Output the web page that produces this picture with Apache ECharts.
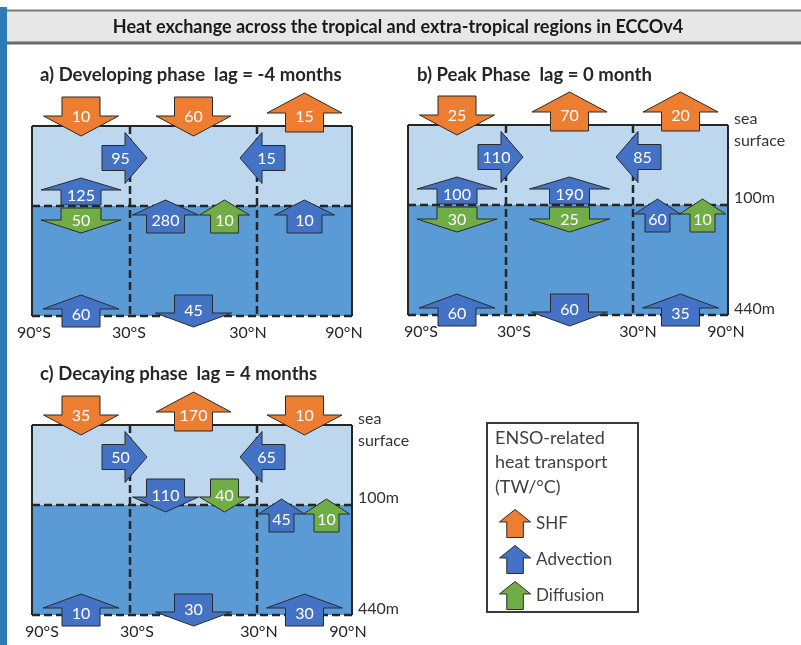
<!DOCTYPE html>
<html><head><meta charset="utf-8">
<script src="https://cdn.jsdelivr.net/npm/echarts@6/dist/echarts.min.js"></script>
<style>html,body{margin:0;padding:0;background:#fff}#c{width:801px;height:645px}</style>
</head><body><div id="c"></div>
<script>
// ---------------- DATA ----------------
const mainTitle = 'Heat exchange across the tropical and extra-tropical regions in ECCOv4';
const titles = ['a) Developing phase  lag = -4 months', 'b) Peak Phase  lag = 0 month', 'c) Decaying phase  lag = 4 months'];
const regions = ['90°S–30°S', '30°S–30°N', '30°N–90°N'];
const latTicks = ['90°S', '30°S', '30°N', '90°N'];
const depthTicks = ['sea', 'surface', '100m', '440m'];
const legendTitle = ['ENSO-related', 'heat transport', '(TW/°C)'];
const kinds = ['SHF', 'Advection', 'Diffusion'];

// surface heat flux per region (TW/°C), + = upward (out of ocean), - = into ocean
const shfA = [-10, -60, 15];
const shfB = [-25, 70, 20];
const shfC = [-35, 170, -10];
// upper-layer meridional advection across 30°S and 30°N, + = northward
const latAdvA = [95, -15];
const latAdvB = [110, -85];
const latAdvC = [50, -65];
// vertical advection across 100 m per region, + = upward, null = none
const adv100A = [125, 280, 10];
const adv100B = [100, 190, 60];
const adv100C = [null, -110, 45];
// vertical diffusion across 100 m per region
const dif100A = [-50, 10, null];
const dif100B = [-30, -25, 10];
const dif100C = [null, -40, 10];
// vertical advection across 440 m per region
const adv440A = [60, -45, null];
const adv440B = [60, -60, 35];
const adv440C = [10, -30, 30];

// ---------------- LAYOUT / STYLE ----------------
const FONT = 'Lato, "Open Sans", sans-serif';
const COLORS = {SHF: '#ed7d31', Advection: '#4472c4', Diffusion: '#70ad47'};
const UPPER = '#bdd7ee', LOWER = '#5b9bd5', INK = '#262626';
const XB = [0, 98, 225, 320];   // region boundaries in grid units
const YD = [0, 80, 190];        // depth levels (0, 100, 440 m) in grid units

const panelLayout = [
  {left: 32, top: 126, titleX: 40, titleY: 75, depthLabels: false, tickOff: [2, -1, -9, -8]},
  {left: 408, top: 125, titleX: 417, titleY: 75, depthLabels: true, tickOff: [13, 8, 5, -2]},
  {left: 32, top: 425, titleX: 40, titleY: 374, depthLabels: true, tickOff: [10, 7, 2, -4]}
];
const panelData = [
  {shf: shfA, lat: latAdvA, adv100: adv100A, dif100: dif100A, adv440: adv440A},
  {shf: shfB, lat: latAdvB, adv100: adv100B, dif100: dif100B, adv440: adv440B},
  {shf: shfC, lat: latAdvC, adv100: adv100C, dif100: dif100C, adv440: adv440C}
];

function buildArrows(d) {
  const out = {SHF: [], Advection: [], Diffusion: []};
  const cx = i => (XB[i] + XB[i + 1]) / 2;
  d.shf.forEach((v, i) => {
    if (v == null) return;
    const x = cx(i);
    if (v > 0) out.SHF.push({t: [x, 6], p: [x, -33], v, sw: 38, hw: 75, hl: 20});
    else out.SHF.push({t: [x, -29], p: [x, 10], v, sw: 38, hw: 75, hl: 20});
  });
  d.lat.forEach((v, j) => {
    if (v == null) return;
    const b = XB[j + 1], y = 32;
    if (v > 0) out.Advection.push({t: [b - 28, y], p: [b + 17, y], v, sw: 25, hw: 51, hl: 22});
    else out.Advection.push({t: [b + 28, y], p: [b - 17, y], v, sw: 25, hw: 51, hl: 22});
  });
  const L = YD[1];
  for (let i = 0; i < 3; i++) {
    const a = d.adv100[i], f = d.dif100[i], x = cx(i);
    if (a != null && f != null && Math.sign(a) !== Math.sign(f)) {
      [[a, 'Advection'], [f, 'Diffusion']].forEach(([v, k]) => {
        if (v > 0) out[k].push({t: [x, L - 1], p: [x, L - 28], v, sw: 40, hw: 80, hl: 12});
        else out[k].push({t: [x, L + 2], p: [x, L + 27], v, sw: 40, hw: 80, hl: 13});
      });
    } else {
      const pair = (a != null && f != null);
      const narrow = i === 2;
      [[a, 'Advection', 0], [f, 'Diffusion', 1]].forEach(([v, k, idx]) => {
        if (v == null) return;
        let xx = x, sw, hw;
        if (pair) {
          if (narrow) { xx = x + (idx ? 22 : -23); sw = 25; hw = 46; }
          else { xx = x + (idx ? 31 : -28); sw = idx ? 28 : 38; hw = idx ? 50 : 66; }
        } else { sw = 35; hw = 60; }
        if (v > 0) out[k].push({t: [xx, L + 27], p: [xx, L - 6], v, sw, hw, hl: 15});
        else out[k].push({t: [xx, L - 26], p: [xx, L + 7], v, sw, hw, hl: 15});
      });
    }
  }
  const B = YD[2];
  d.adv440.forEach((v, i) => {
    if (v == null) return;
    const x = cx(i);
    if (v > 0) out.Advection.push({t: [x, B + 11], p: [x, B - 21], v, sw: 38, hw: 76, hl: 14});
    else out.Advection.push({t: [x, B - 21], p: [x, B + 11], v, sw: 38, hw: 76, hl: 14});
  });
  return out;
}

function arrowRender(specs) {
  return function (params, api) {
    const s = specs[params.dataIndex];
    const T = api.coord([api.value(0), api.value(1)]);
    const P = api.coord([api.value(2), api.value(3)]);
    const dx = P[0] - T[0], dy = P[1] - T[1], len = Math.hypot(dx, dy);
    const ux = dx / len, uy = dy / len, nx = -uy, ny = ux;
    const Bx = P[0] - ux * s.hl, By = P[1] - uy * s.hl;
    const pts = [
      [T[0] + nx * s.sw / 2, T[1] + ny * s.sw / 2],
      [Bx + nx * s.sw / 2, By + ny * s.sw / 2],
      [Bx + nx * s.hw / 2, By + ny * s.hw / 2],
      [P[0], P[1]],
      [Bx - nx * s.hw / 2, By - ny * s.hw / 2],
      [Bx - nx * s.sw / 2, By - ny * s.sw / 2],
      [T[0] - nx * s.sw / 2, T[1] - ny * s.sw / 2]
    ];
    let mx = (T[0] + P[0]) / 2, my = (T[1] + P[1]) / 2 + 1;
    if (Math.abs(ux) > 0.5) mx -= ux * 4;
    else my += (uy < 0 ? 3 : -1);
    return {type: 'group', children: [
      {type: 'polygon', shape: {points: pts}, style: {fill: api.visual('color'), stroke: '#2b2b2b', lineWidth: 1}},
      {type: 'text', style: {text: String(Math.abs(api.value(4))), x: mx, y: my, fill: '#fff',
        fontSize: 16, fontFamily: FONT, align: 'center', verticalAlign: 'middle'}}
    ]};
  };
}

function frameRender(lay) {
  return function (params, api) {
    const c = (x, y) => api.coord([x, y]);
    const ch = [];
    const tl = c(XB[0], YD[0]), m = c(XB[3], YD[1]), ml = c(XB[0], YD[1]), br = c(XB[3], YD[2]);
    ch.push({type: 'rect', shape: {x: tl[0], y: tl[1], width: m[0] - tl[0], height: m[1] - tl[1]}, style: {fill: UPPER}});
    ch.push({type: 'rect', shape: {x: ml[0], y: ml[1], width: br[0] - ml[0], height: br[1] - ml[1]}, style: {fill: LOWER}});
    const line = (a, b, dash) => ch.push({type: 'line', shape: {x1: a[0], y1: a[1], x2: b[0], y2: b[1]},
      style: {stroke: INK, lineWidth: dash ? 2.5 : 2, lineDash: dash ? [8, 4] : null}});
    line(c(XB[0], YD[1]), c(XB[3], YD[1]), true);
    line(c(XB[0], YD[2]), c(XB[3], YD[2]), true);
    line(c(XB[1], YD[0]), c(XB[1], YD[2]), true);
    line(c(XB[2], YD[0]), c(XB[2], YD[2]), true);
    line(c(XB[0], YD[0]), c(XB[3], YD[0]), false);
    line(c(XB[0], YD[0]), c(XB[0], YD[2]), false);
    line(c(XB[3], YD[0]), c(XB[3], YD[2]), false);
    latTicks.forEach((t, k) => {
      const p = c(XB[k] + lay.tickOff[k], YD[2]);
      ch.push({type: 'text', style: {text: t, x: p[0], y: p[1] + 17, fill: INK, fontSize: 16, fontFamily: FONT,
        align: 'center', verticalAlign: 'middle'}});
    });
    if (lay.depthLabels) {
      const pos = [[YD[0], -6], [YD[0], 16], [YD[1], -7], [YD[2], -6]];
      depthTicks.forEach((t, k) => {
        const p = c(XB[3], pos[k][0]);
        ch.push({type: 'text', style: {text: t, x: p[0] + 6, y: p[1] + pos[k][1], fill: '#333', fontSize: 16,
          fontFamily: FONT, align: 'left', verticalAlign: 'middle'}});
      });
    }
    return {type: 'group', children: ch};
  };
}

const grid = [], xAxis = [], yAxis = [], series = [];
panelLayout.forEach((lay, pi) => {
  grid.push({left: lay.left, top: lay.top, width: XB[3], height: YD[2]});
  xAxis.push({type: 'value', gridIndex: pi, min: XB[0], max: XB[3], show: false});
  yAxis.push({type: 'value', gridIndex: pi, min: YD[0], max: YD[2], inverse: true, show: false});
  series.push({type: 'custom', name: 'frame' + pi, xAxisIndex: pi, yAxisIndex: pi, silent: true, z: 1,
    renderItem: frameRender(lay), data: [[XB[0], YD[0]]]});
  const arrows = buildArrows(panelData[pi]);
  kinds.forEach(k => {
    const specs = arrows[k];
    series.push({type: 'custom', name: k, xAxisIndex: pi, yAxisIndex: pi, z: 3,
      itemStyle: {color: COLORS[k], borderColor: '#2b2b2b', borderWidth: 1},
      renderItem: arrowRender(specs),
      data: specs.map(s => [s.t[0], s.t[1], s.p[0], s.p[1], s.v])});
  });
});

const graphic = [
  {type: 'rect', shape: {x: 0, y: 7, width: 7, height: 638}, style: {fill: '#2b7bb9'}},
  {type: 'rect', shape: {x: 7, y: 10, width: 794, height: 33}, style: {fill: '#e7e7e7'}},
  {type: 'line', shape: {x1: 7, y1: 10.5, x2: 801, y2: 10.5}, style: {stroke: '#7a7a7a', lineWidth: 2}},
  {type: 'line', shape: {x1: 7, y1: 43, x2: 801, y2: 43}, style: {stroke: '#6a6a6a', lineWidth: 3}},
  {type: 'text', style: {text: mainTitle, x: 398, y: 27, fill: '#1a1a1a', fontSize: 18, fontWeight: 'bold',
    fontFamily: FONT, align: 'center', verticalAlign: 'middle'}},
  {type: 'rect', shape: {x: 487, y: 423, width: 151, height: 189}, style: {fill: '#fff', stroke: '#3a3a3a', lineWidth: 2}}
];
panelLayout.forEach((lay, pi) => {
  graphic.push({type: 'text', style: {text: titles[pi], x: lay.titleX, y: lay.titleY, fill: INK, fontSize: 18.5,
    fontWeight: 'bold', fontFamily: FONT, align: 'left', verticalAlign: 'middle'}});
});
legendTitle.forEach((t, k) => {
  graphic.push({type: 'text', style: {text: t, x: 495, y: 438 + k * 24.5, fill: '#404040', fontSize: 18,
    fontFamily: FONT, align: 'left', verticalAlign: 'middle'}});
});

const chart = echarts.init(document.getElementById('c'), null, {renderer: 'canvas'});
chart.setOption({
  backgroundColor: '#fff',
  animation: false,
  textStyle: {fontFamily: FONT},
  grid, xAxis, yAxis, series, graphic,
  legend: {
    data: kinds, orient: 'vertical', left: 499, top: 509, itemWidth: 32, itemHeight: 28, itemGap: 7,
    icon: 'path://M15,0L30,12L23,12L23,27L7,27L7,12L0,12Z',
    itemStyle: {borderColor: '#2b2b2b', borderWidth: 1},
    textStyle: {fontSize: 17, color: '#404040', fontFamily: FONT},
    padding: 0, selectedMode: false
  }
});
</script></body></html>
